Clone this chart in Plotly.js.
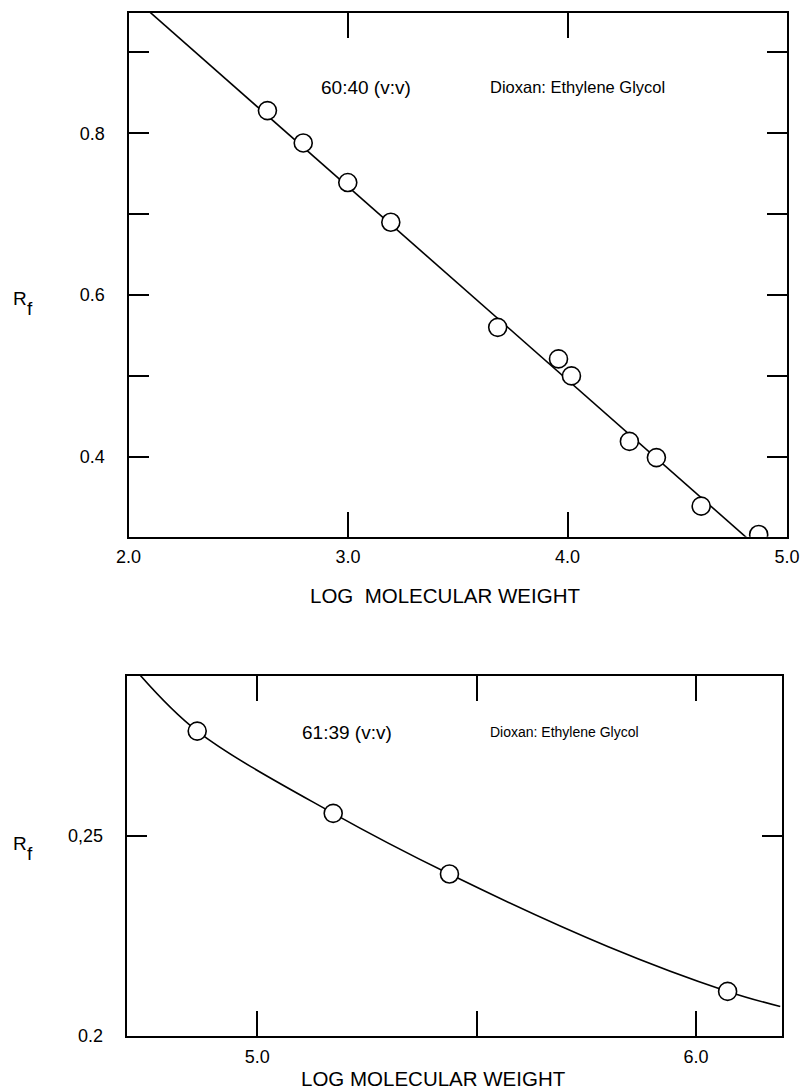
<!DOCTYPE html>
<html>
<head>
<meta charset="utf-8">
<script src="https://cdn.plot.ly/plotly-3.0.1.min.js"></script>
<style>html,body{margin:0;padding:0;background:#fff;}#chart{width:801px;height:1089px;}</style>
</head>
<body>
<div id="chart"></div>
<script>
// ---- Top panel: 60:40 (v:v) Dioxan: Ethylene Glycol ----
const topLogMW = [2.633, 2.796, 2.999, 3.195, 3.682, 3.959, 4.018, 4.282, 4.405, 4.609, 4.871];
const topRf    = [0.828, 0.788, 0.739, 0.690, 0.560, 0.521, 0.500, 0.419, 0.399, 0.339, 0.304];
const topFitX  = [2.0, 5.0];
const topFitY  = [0.973, 0.256];
const topXTickVals = [2, 3, 4, 5];
const topXTickText = ['2.0', '3.0', '4.0', '5.0'];
const topYTickVals = [0.4, 0.6, 0.8];
const topYTickText = ['0.4', '0.6', '0.8'];
const topYMinorVals = [0.5, 0.7, 0.9];

// ---- Bottom panel: 61:39 (v:v) Dioxan: Ethylene Glycol ----
const botLogMW = [4.863, 5.173, 5.438, 6.072];
const botRf    = [0.2763, 0.2557, 0.2405, 0.2111];
const botCurveX = [4.733, 4.863, 5.173, 5.438, 5.8, 6.072, 6.192];
const botCurveY = [0.2903, 0.2763, 0.2557, 0.2405, 0.2223, 0.2111, 0.2073];
const botXTickVals = [5.0, 6.0];
const botXTickText = ['5.0', '6.0'];
const botXMinorVals = [5.5];
const botYTickVals = [0.2, 0.25];
const botYTickText = ['0.2', '0,25'];

const W = 801, H = 1089;
const px = v => v / W;
const py = v => 1 - v / H;
const FONT = 'Liberation Sans, Arial, sans-serif';

const markerStyle = {symbol: 'circle', size: 18, color: '#ffffff', line: {color: '#000000', width: 1.6}};

const traces = [
  {x: topFitX, y: topFitY, type: 'scatter', mode: 'lines', line: {color: '#000', width: 1.6}, xaxis: 'x', yaxis: 'y', hoverinfo: 'skip'},
  {x: topLogMW, y: topRf, type: 'scatter', mode: 'markers', marker: markerStyle, xaxis: 'x', yaxis: 'y'},
  {x: botCurveX, y: botCurveY, type: 'scatter', mode: 'lines', line: {color: '#000', width: 1.6, shape: 'spline', smoothing: 1}, xaxis: 'x2', yaxis: 'y2', hoverinfo: 'skip'},
  {x: botLogMW, y: botRf, type: 'scatter', mode: 'markers', marker: markerStyle, xaxis: 'x2', yaxis: 'y2'}
];

const axisCommon = {
  showline: true, linecolor: '#000', linewidth: 2, mirror: 'ticks',
  ticks: 'inside', tickcolor: '#000', tickwidth: 2,
  showgrid: false, zeroline: false, fixedrange: true,
  tickfont: {family: FONT, size: 18, color: '#000'}
};

const txt = (text, x, y, size, xanchor) => ({
  xref: 'paper', yref: 'paper', x: px(x), y: py(y), xanchor: xanchor || 'left', yanchor: 'middle',
  showarrow: false, text: text, font: {family: FONT, size: size, color: '#000'}
});

const layout = {
  width: W, height: H,
  margin: {l: 0, r: 0, t: 0, b: 0},
  paper_bgcolor: '#fff', plot_bgcolor: '#fff',
  showlegend: false,
  font: {family: FONT, color: '#000'},
  xaxis: Object.assign({}, axisCommon, {
    domain: [px(128.5), px(787)], anchor: 'y',
    range: [2.0, 5.0], tickmode: 'array', tickvals: topXTickVals, ticktext: topXTickText,
    ticklen: 25, ticklabelstandoff: 3
  }),
  yaxis: Object.assign({}, axisCommon, {
    domain: [py(536.7), py(12.7)], anchor: 'x',
    range: [0.3012, 0.949], tickmode: 'array', tickvals: topYTickVals, ticktext: topYTickText,
    ticklen: 20, ticklabelstandoff: 18,
    minor: {tickmode: 'array', tickvals: topYMinorVals, ticks: 'inside', ticklen: 20, tickwidth: 2, tickcolor: '#000', showgrid: false}
  }),
  xaxis2: Object.assign({}, axisCommon, {
    domain: [px(126.7), px(781.7)], anchor: 'y2',
    range: [4.7023, 6.1953], tickmode: 'array', tickvals: botXTickVals, ticktext: botXTickText,
    ticklen: 25, ticklabelstandoff: 4,
    minor: {tickmode: 'array', tickvals: botXMinorVals, ticks: 'inside', ticklen: 25, tickwidth: 2, tickcolor: '#000', showgrid: false}
  }),
  yaxis2: Object.assign({}, axisCommon, {
    domain: [py(1035.7), py(676)], anchor: 'x2',
    range: [0.2, 0.2901], tickmode: 'array', tickvals: botYTickVals, ticktext: botYTickText,
    ticklen: 20, ticklabelstandoff: 18
  }),
  annotations: [
    txt('60:40 (v:v)', 319, 87, 19),
    txt('Dioxan: Ethylene Glycol', 487.7, 87, 16.5),
    txt('61:39 (v:v)', 300, 732, 19),
    txt('Dioxan: Ethylene Glycol', 487.7, 732, 14),
    // axis titles
    txt('LOG  MOLECULAR WEIGHT', 444.5, 595, 20.5, 'center'),
    txt('LOG MOLECULAR WEIGHT', 433.5, 1078, 20.5, 'center'),
    // R_f labels (R with a lowered f)
    txt('R', 11, 298, 19),
    txt('f', 25, 308, 19),
    txt('R', 11, 843, 19),
    txt('f', 25, 853, 19)
  ]
};

Plotly.newPlot('chart', traces, layout, {displayModeBar: false, staticPlot: true});
</script>
</body>
</html>
